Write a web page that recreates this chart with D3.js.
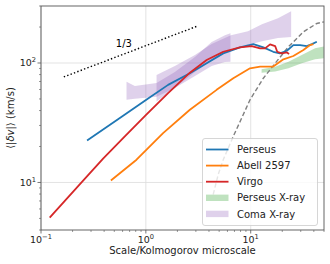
<!DOCTYPE html>
<html>
<head>
<meta charset="utf-8">
<script src="https://cdn.jsdelivr.net/npm/d3@7"></script>
<style>
  body { margin: 0; background: #fff; }
  svg { font-family: "DejaVu Sans", sans-serif; }
</style>
</head>
<body>
<svg id="chart" width="330" height="264"></svg>
<script>
// values
var perseusScale = [0.275, 0.565, 1.01, 1.63, 2.63, 3.80, 5.47, 7.90, 10.6, 13.2, 16.4, 19.0, 22.1, 25.5, 29.6, 34.3, 38.3, 42.7];
var perseusV     = [22.5, 34.6, 49.2, 65.6, 82.0, 99.4, 120.4, 135.2, 143.9, 135.2, 124.2, 120.4, 126.6, 141.3, 141.3, 138.6, 143.9, 150.5];

var abellScale = [0.464, 0.815, 1.46, 2.63, 4.73, 6.82, 9.85, 12.3, 16.4, 20.5, 25.5, 31.8, 36.8, 39.6];
var abellV     = [10.4, 15.5, 25.9, 40.6, 59.6, 74.6, 90.3, 93.1, 93.5, 107.4, 114.4, 128.3, 141.3, 143.9];

var virgoScale = [0.121, 0.246, 0.391, 0.630, 1.01, 1.63, 2.63, 3.80, 5.47, 7.90, 10.2, 12.3, 13.7, 15.3, 17.1, 17.9, 19.8, 22.1, 23.2];
var virgoV     = [5.08, 10.1, 15.8, 24.3, 36.9, 55.9, 83.0, 105.9, 124.2, 135.2, 138.6, 132.6, 132.6, 143.2, 138.6, 124.2, 120.4, 122.7, 118.9];

var perseusXrayScale = [12.7, 17.1, 22.9, 30.7, 41.1, 49.8];
var perseusXrayLow   = [83.0, 84.7, 90.3, 99.4, 107.4, 109.4];
var perseusXrayHigh  = [88.6, 93.1, 102.5, 116.6, 132.6, 137.2];

var comaAScale = [0.654, 0.785, 1.265, 1.89, 2.94, 4.24, 5.68, 6.41];
var comaALow   = [49.2, 50.1, 52.1, 61.9, 77.9, 94.4, 101.9, 102.5];
var comaAHigh  = [69.8, 64.3, 68.1, 84.1, 112.2, 149.6, 171.1, 177.8];

var comaBScale = [1.265, 1.89, 2.94, 4.24, 6.48, 9.42, 12.8, 18.2, 24.3];
var comaBLow   = [47.6, 61.9, 84.1, 105.9, 128.3, 141.3, 152.4, 161.6, 164.8];
var comaBHigh  = [79.4, 94.4, 116.6, 144.0, 171.1, 184.8, 211.3, 237.1, 271.0];

var dashScale = [4.39, 4.90, 5.47, 6.82, 9.85, 13.2, 17.1, 22.9, 31.8, 42.7, 49.8];
var dashV     = [7.94, 11.66, 15.5, 24.3, 49.2, 74.6, 99.4, 136.7, 182.3, 214.3, 220.8];

var slopeScale = [0.165, 3.16];
var slopeV     = [76.5, 205];

var xTicks = [0.1, 1, 10];
var xTickExp = ["\u22121", "0", "1"];
var yTicks = [10, 100];
var yTickExp = ["1", "2"];

var margin = { left: 41, top: 6, right: 6, bottom: 34 };
var W = 330 - margin.left - margin.right;
var H = 264 - margin.top - margin.bottom;

var svg = d3.select("#chart");
var g = svg.append("g").attr("transform", "translate(" + margin.left + "," + margin.top + ")");

var x = d3.scaleLog().domain([0.1, 50]).range([0, W]);
var y = d3.scaleLog().domain([4, 300]).range([H, 0]);

svg.append("defs").append("clipPath").attr("id", "clip")
    .append("rect").attr("width", W).attr("height", H);

// grid
g.selectAll(".gx").data(xTicks).enter().append("line")
    .attr("x1", d => x(d)).attr("x2", d => x(d)).attr("y1", 0).attr("y2", H)
    .attr("stroke", "#dcdcdc").attr("stroke-width", 0.8);
g.selectAll(".gy").data(yTicks).enter().append("line")
    .attr("y1", d => y(d)).attr("y2", d => y(d)).attr("x1", 0).attr("x2", W)
    .attr("stroke", "#dcdcdc").attr("stroke-width", 0.8);

var plot = g.append("g").attr("clip-path", "url(#clip)");

function band(xs, lo, hi) {
    return d3.area()
        .x((d, i) => x(xs[i]))
        .y0((d, i) => y(lo[i]))
        .y1((d, i) => y(hi[i]))(xs);
}
function path(xs, vs) {
    return d3.line().x((d, i) => x(xs[i])).y((d, i) => y(vs[i]))(xs);
}

var purple = "#9467bd", green = "#2ca02c";
plot.append("path").attr("d", band(comaAScale, comaALow, comaAHigh)).attr("fill", purple).attr("fill-opacity", 0.3);
plot.append("path").attr("d", band(comaBScale, comaBLow, comaBHigh)).attr("fill", purple).attr("fill-opacity", 0.3);
plot.append("path").attr("d", band(perseusXrayScale, perseusXrayLow, perseusXrayHigh)).attr("fill", green).attr("fill-opacity", 0.3);

plot.append("path").attr("d", path(dashScale, dashV)).attr("fill", "none")
    .attr("stroke", "#808080").attr("stroke-width", 1.4).attr("stroke-dasharray", "4.5,2.5");
plot.append("path").attr("d", path(slopeScale, slopeV)).attr("fill", "none")
    .attr("stroke", "#000").attr("stroke-width", 1.4).attr("stroke-dasharray", "1.4,2.2");

var series = [
    { name: "Perseus", xs: perseusScale, vs: perseusV, color: "#1f77b4" },
    { name: "Abell 2597", xs: abellScale, vs: abellV, color: "#ff7f0e" },
    { name: "Virgo", xs: virgoScale, vs: virgoV, color: "#d62728" }
];
series.forEach(function(s) {
    plot.append("path").attr("d", path(s.xs, s.vs)).attr("fill", "none")
        .attr("stroke", s.color).attr("stroke-width", 1.8).attr("stroke-linejoin", "round");
});

g.append("text").attr("x", x(0.617)).attr("y", y(136)).attr("text-anchor", "middle")
    .attr("font-size", 10).text("1/3");

// frame
g.append("rect").attr("width", W).attr("height", H).attr("fill", "none")
    .attr("stroke", "#555").attr("stroke-width", 0.9);

// minor ticks
var xMinor = [], yMinor = [];
[0.1, 1, 10].forEach(function(dec) { for (var k = 2; k <= 9; k++) if (dec * k <= 50) xMinor.push(dec * k); });
[1, 10, 100].forEach(function(dec) { for (var k = 2; k <= 9; k++) if (dec * k >= 4 && dec * k <= 300) yMinor.push(dec * k); });

g.selectAll(".xmin").data(xMinor).enter().append("line")
    .attr("x1", d => x(d)).attr("x2", d => x(d)).attr("y1", H).attr("y2", H + 2)
    .attr("stroke", "#555").attr("stroke-width", 0.6);
g.selectAll(".ymin").data(yMinor).enter().append("line")
    .attr("y1", d => y(d)).attr("y2", d => y(d)).attr("x1", 0).attr("x2", -2)
    .attr("stroke", "#555").attr("stroke-width", 0.6);
g.selectAll(".xmaj").data(xTicks).enter().append("line")
    .attr("x1", d => x(d)).attr("x2", d => x(d)).attr("y1", H).attr("y2", H + 3.5)
    .attr("stroke", "#555").attr("stroke-width", 0.8);
g.selectAll(".ymaj").data(yTicks).enter().append("line")
    .attr("y1", d => y(d)).attr("y2", d => y(d)).attr("x1", 0).attr("x2", -3.5)
    .attr("stroke", "#555").attr("stroke-width", 0.8);

// tick labels
xTicks.forEach(function(t, i) {
    var tx = g.append("text").attr("x", x(t)).attr("y", H + 13).attr("text-anchor", "middle")
        .attr("font-size", 9.5).attr("fill", "#222");
    tx.append("tspan").text("10");
    tx.append("tspan").attr("dy", -4).attr("font-size", 6.7).text(xTickExp[i]);
});
yTicks.forEach(function(t, i) {
    var ty = g.append("text").attr("x", -5).attr("y", y(t) + 3.5).attr("text-anchor", "end")
        .attr("font-size", 9.5).attr("fill", "#222");
    ty.append("tspan").text("10");
    ty.append("tspan").attr("dy", -4).attr("font-size", 6.7).text(yTickExp[i]);
});

// axis labels
g.append("text").attr("x", W / 2).attr("y", H + 24).attr("text-anchor", "middle")
    .attr("font-size", 10).attr("fill", "#222").text("Scale/Kolmogorov microscale");
var yl = g.append("text").attr("transform", "translate(-27," + (H / 2) + ") rotate(-90)")
    .attr("text-anchor", "middle").attr("font-size", 10).attr("fill", "#222");
yl.append("tspan").text("\u27e8|");
yl.append("tspan").attr("font-style", "italic").text("\u03b4v");
yl.append("tspan").text("|\u27e9 (km/s)");

// legend
var legendItems = [
    { name: "Perseus", color: "#1f77b4", type: "line" },
    { name: "Abell 2597", color: "#ff7f0e", type: "line" },
    { name: "Virgo", color: "#d62728", type: "line" },
    { name: "Perseus X-ray", color: green, type: "patch" },
    { name: "Coma X-ray", color: purple, type: "patch" }
];
var lg = g.append("g").attr("transform", "translate(" + (202.5 - margin.left) + "," + (138.5 - margin.top) + ")");
lg.append("rect").attr("width", 115).attr("height", 87).attr("rx", 2.5)
    .attr("fill", "#fff").attr("fill-opacity", 0.8).attr("stroke", "#ccc").attr("stroke-width", 0.8);
legendItems.forEach(function(it, i) {
    var ry = 11 + i * 16.1;
    if (it.type === "line") {
        lg.append("line").attr("x1", 3.5).attr("x2", 26).attr("y1", ry).attr("y2", ry)
            .attr("stroke", it.color).attr("stroke-width", 1.8);
    } else {
        lg.append("rect").attr("x", 3.5).attr("y", ry - 3.2).attr("width", 22.5).attr("height", 6.4)
            .attr("fill", it.color).attr("fill-opacity", 0.3);
    }
    lg.append("text").attr("x", 34.5).attr("y", ry + 3.6).attr("font-size", 10).attr("fill", "#222").text(it.name);
});
</script>
</body>
</html>
